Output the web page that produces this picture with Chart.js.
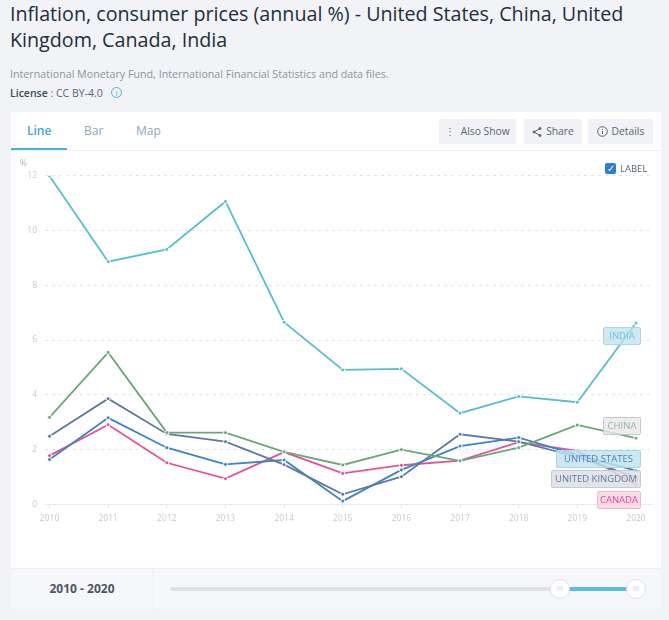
<!DOCTYPE html>
<html>
<head>
<meta charset="utf-8">
<script src="https://cdn.jsdelivr.net/npm/chart.js@4"></script>
<style>
    html, body { margin: 0; padding: 0; }
    body { width: 669px; height: 620px; background: #f1f3f7; font-family: "Open Sans", "Noto Sans", sans-serif; position: relative; overflow: hidden; }
    .abs { position: absolute; white-space: nowrap; }
    #title { left: 10px; top: 1px; width: 640px; font-size: 19.7px; line-height: 26px; color: #1f2d3d; white-space: normal; }
    #source { left: 10px; top: 67px; font-size: 10.7px; color: #8b979c; }
    #license { left: 10px; top: 86px; font-size: 10.5px; color: #5a6570; }
    #license b { color: #3e4a56; font-weight: 600; }
    #infoIcon { left: 111px; top: 87px; width: 9px; height: 9px; border: 1px solid #4fb0e6; border-radius: 50%; color: #4fb0e6; font-size: 8px; line-height: 9px; text-align: center; }
    #card { left: 11px; top: 112px; width: 650px; height: 497px; background: #fff; }
    #tabLine { left: 11px; top: 112px; height: 38px; border-bottom: 1px solid #eceef2; width: 650px; }
    .tab { top: 122px; font-size: 12px; color: #8fa6bd; }
    #underline { left: 11px; top: 148px; width: 56px; height: 2px; background: #3fb4d8; }
    .btn { top: 119px; height: 25px; line-height: 25px; background: #f1f2f5; border-radius: 2px; font-size: 10.3px; color: #5a6570; text-align: center; }
    .btn svg { vertical-align: -2px; margin-right: 4px; }
    #chartBox { left: 11px; top: 150px; width: 650px; height: 418px; }
    #unit { left: 20px; top: 157px; font-size: 8.5px; color: #aeb3bd; }
    #check { left: 605px; top: 163px; width: 11px; height: 11px; background: #2b7fd0; border-radius: 2px; color: #fff; font-size: 10px; line-height: 11px; text-align: center; }
    #checkText { left: 620px; top: 162px; font-size: 9.5px; color: #5a6570; }
    .tag { height: 16px; line-height: 16px; font-size: 9.5px; text-align: center; border-radius: 2px; border: 1px solid; box-sizing: content-box; }
    #footer { left: 11px; top: 568px; width: 650px; height: 41px; background: #f6f7fa; border-top: 1px solid #eceef2; box-sizing: border-box; }
    #divider { left: 153px; top: 568px; width: 1px; height: 41px; background: #eceef2; }
    #range { left: 11px; top: 580px; width: 142px; text-align: center; font-size: 12px; font-weight: 700; color: #4b5563; }
    #track { left: 170px; top: 587px; width: 392px; height: 4px; background: #dfe1e9; border-radius: 2px; }
    #active { left: 560px; top: 587px; width: 76px; height: 4px; background: #5cb9f4; }
    .handle { top: 579px; width: 18px; height: 18px; line-height: 17px; border: 1px solid #dcdfe6; border-radius: 50%; background: #fff; color: #c9ccd4; font-size: 7px; text-align: center; }
</style>
</head>
<body>
<div class="abs" id="title">Inflation, consumer prices (annual %) - United States, China, United Kingdom, Canada, India</div>
<div class="abs" id="source">International Monetary Fund, International Financial Statistics and data files.</div>
<div class="abs" id="license"><b>License</b> : CC BY-4.0</div>
<div class="abs" id="infoIcon">i</div>
<div class="abs" id="card"></div>
<div class="abs" id="tabLine"></div>
<div class="abs tab" style="left:27px;color:#3fa9d0;font-weight:600">Line</div>
<div class="abs tab" style="left:84px">Bar</div>
<div class="abs tab" style="left:136px">Map</div>
<div class="abs" id="underline"></div>
<div class="abs btn" style="left:439px;width:77px">&#8942;&nbsp; Also Show</div>
<div class="abs btn" style="left:524px;width:58px"><svg width="10" height="10" viewBox="0 0 10 10" fill="none" stroke="#5a6570"><path d="M8 1.5 2 5l6 3.5"/><circle cx="8" cy="1.5" r="1" fill="#5a6570"/><circle cx="2" cy="5" r="1" fill="#5a6570"/><circle cx="8" cy="8.5" r="1" fill="#5a6570"/></svg>Share</div>
<div class="abs btn" style="left:588px;width:65px"><svg width="11" height="11" viewBox="0 0 11 11" fill="none" stroke="#5a6570"><circle cx="5.5" cy="5.5" r="4.8"/><path d="M5.5 5v3M5.5 3v1"/></svg>Details</div>
<div class="abs" id="chartBox"><canvas id="inflationChart"></canvas></div>
<div class="abs" id="unit">%</div>
<div class="abs" id="check">&#10003;</div>
<div class="abs" id="checkText">LABEL</div>
<div class="abs tag" style="left:603px;top:327px;width:36px;color:#6cc5d8;background:rgba(190,226,236,.75);border-color:#a9d8e4">INDIA</div>
<div class="abs tag" style="left:603px;top:417px;width:36px;color:#8fb79a;background:rgba(232,233,235,.8);border-color:#c4c8cc">CHINA</div>
<div class="abs tag" style="left:556px;top:450px;width:83px;color:#4f83bd;background:rgba(190,226,236,.8);border-color:#a9d8e4">UNITED STATES</div>
<div class="abs tag" style="left:551px;top:470px;width:88px;color:#64789a;background:rgba(220,223,230,.85);border-color:#c6cad2">UNITED KINGDOM</div>
<div class="abs tag" style="left:597px;top:491px;width:42px;color:#e8458f;background:rgba(248,214,228,.85);border-color:#eebcd0">CANADA</div>
<div class="abs" id="footer"></div>
<div class="abs" id="divider"></div>
<div class="abs" id="range">2010 - 2020</div>
<div class="abs" id="track"></div>
<div class="abs" id="active"></div>
<div class="abs handle" style="left:550px">III</div>
<div class="abs handle" style="left:626px">III</div>

<script>
const years = [2010, 2011, 2012, 2013, 2014, 2015, 2016, 2017, 2018, 2019, 2020];
const yTicks = [0, 2, 4, 6, 8, 10, 12];
const india = [11.99, 8.86, 9.31, 11.06, 6.65, 4.91, 4.95, 3.33, 3.94, 3.73, 6.62];
const china = [3.18, 5.55, 2.62, 2.62, 1.92, 1.44, 2.0, 1.59, 2.07, 2.9, 2.42];
const unitedStates = [1.64, 3.16, 2.07, 1.46, 1.62, 0.12, 1.26, 2.13, 2.44, 1.81, 1.23];
const unitedKingdom = [2.49, 3.86, 2.57, 2.29, 1.45, 0.37, 1.01, 2.56, 2.29, 1.74, 0.99];
const canada = [1.78, 2.91, 1.52, 0.94, 1.91, 1.13, 1.43, 1.6, 2.27, 1.95, 0.72];

// One line series with the small white-ringed points
function makeSeries(label, values, color) {
    return {
        label: label,
        data: values.map((v, i) => ({ x: years[i], y: v })),
        borderColor: color,
        backgroundColor: color,
        borderWidth: 1.8,
        tension: 0,
        pointRadius: 2,
        pointBorderColor: '#ffffff',
        pointBorderWidth: 1
    };
}

new Chart(document.getElementById('inflationChart'), {
    type: 'line',
    data: {
        datasets: [
            makeSeries('India', india, '#55bfd0'),
            makeSeries('China', china, '#6aa873'),
            makeSeries('United Kingdom', unitedKingdom, '#5f7a9e'),
            makeSeries('United States', unitedStates, '#3a85c6'),
            makeSeries('Canada', canada, '#e8509a')
        ]
    },
    options: {
        responsive: true,
        maintainAspectRatio: false,
        animation: false,
        layout: { padding: { top: 25.7, right: 9, bottom: 43.6, left: 0 } },
        plugins: { legend: { display: false }, tooltip: { enabled: false } },
        scales: {
            x: {
                type: 'linear',
                min: 2009.923,
                max: 2020.273,
                afterBuildTicks: axis => { axis.ticks = years.map(v => ({ value: v })); },
                afterFit: axis => { axis.height = 20; },
                grid: { drawOnChartArea: false, drawTicks: true, tickLength: 4, color: '#e3e5ea' },
                border: { color: '#e8eaee' },
                ticks: {
                    color: '#c6c9d1',
                    font: { size: 8.5, family: '"Open Sans"' },
                    padding: 5,
                    maxRotation: 0,
                    callback: v => String(v)
                }
            },
            y: {
                min: 0,
                max: 12,
                afterBuildTicks: axis => { axis.ticks = yTicks.map(v => ({ value: v })); },
                afterFit: axis => { axis.width = 34; },
                grid: {
                    drawTicks: false,
                    color: c => c.tick.value === 0 ? 'rgba(0,0,0,0)' : '#e2e4e9'
                },
                border: { display: false, dash: [3, 4] },
                ticks: {
                    color: '#c6c9d1',
                    font: { size: 8.5, family: '"Open Sans"' },
                    padding: 8
                }
            }
        }
    }
});
</script>
</body>
</html>
